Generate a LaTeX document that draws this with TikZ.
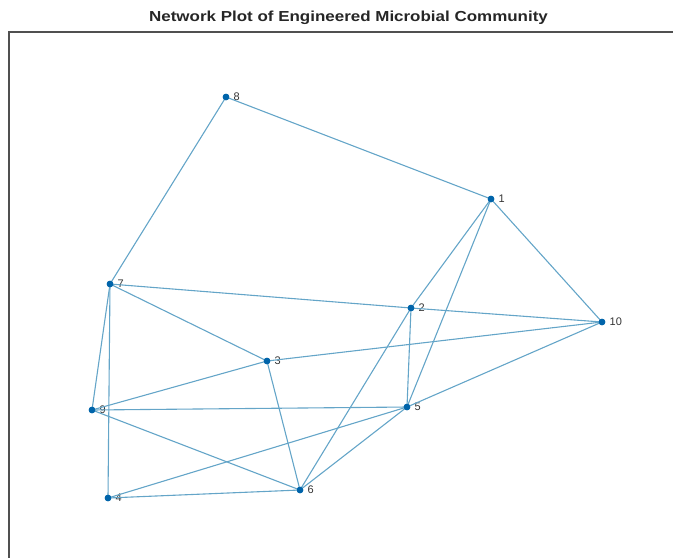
\documentclass[tikz,border=0pt]{standalone}
\usepackage{graphicx}
\usepackage{fontspec}
\setmainfont{Liberation Sans}
\definecolor{edgec}{RGB}{100,165,200}
\definecolor{nodec}{RGB}{0,100,170}
\definecolor{framec}{RGB}{80,80,80}
\begin{document}
\begin{tikzpicture}[x=1pt,y=-1pt,
  vert/.style={circle,fill=nodec,inner sep=0pt,minimum size=6.5pt,
    label={[font=\fontsize{11}{13}\selectfont,text=black!80,inner sep=0pt,xshift=4pt]right:#1}},
  edge/.style={draw=edgec,line width=1.1pt},
  framel/.style={draw=framec,line width=1.6pt}]
\useasboundingbox (0,0) rectangle (673,558);
\node[font=\bfseries\fontsize{14.5}{16}\selectfont,text=black!85] (title) at (348.5,17.5) {\scalebox{1.17}[1]{Network Plot of Engineered Microbial Community}};
\coordinate (fa) at (673,32);
\coordinate (fb) at (9,32);
\coordinate (fc) at (9,558);
\draw[framel] (fa) -- (fb) -- (fc);
\node[vert=1] (n1) at (491,199) {};
\node[vert=2] (n2) at (411,308) {};
\node[vert=3] (n3) at (267,361) {};
\node[vert=4] (n4) at (108,498) {};
\node[vert=5] (n5) at (407,407) {};
\node[vert=6] (n6) at (300,490) {};
\node[vert=7] (n7) at (110,284) {};
\node[vert=8] (n8) at (226,97) {};
\node[vert=9] (n9) at (92,410) {};
\node[vert=10] (n10) at (602,322) {};
\foreach \a/\b in {8/1,8/7,1/10,1/2,1/5,7/2,7/3,7/9,7/4,2/10,2/5,2/6,3/10,3/9,3/6,9/5,9/6,4/5,4/6,5/6,5/10}
  \draw[edge] (n\a.center) -- (n\b.center);
\foreach \i in {1,...,10}
  \fill[nodec] (n\i) circle (3.3pt);
\end{tikzpicture}
\end{document}
